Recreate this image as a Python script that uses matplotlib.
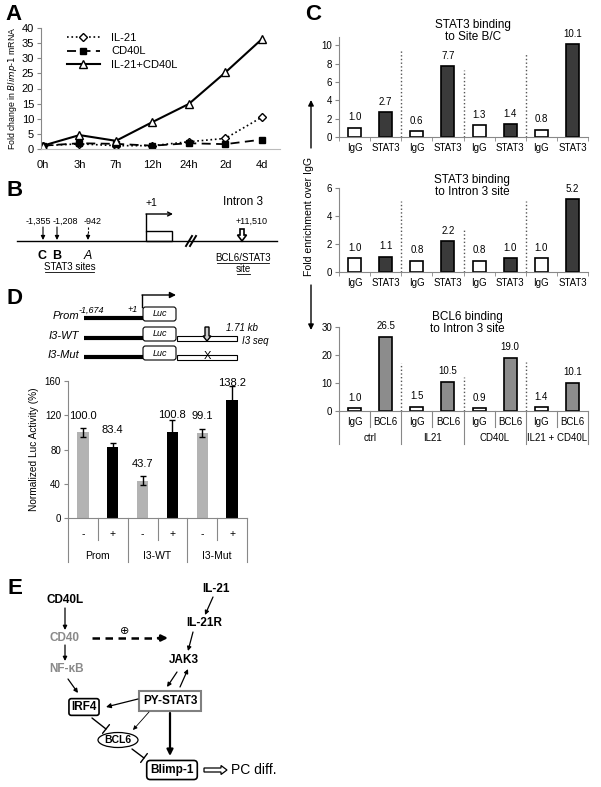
import numpy as np
import matplotlib
matplotlib.use('Agg')
import matplotlib.pyplot as plt
import matplotlib.patches as mpatches

plt.rcParams['font.family'] = ['Liberation Sans', 'DejaVu Sans']
plt.rcParams['axes.linewidth'] = 0.8

W, H = 601, 787

# --- panel A: Blimp-1 mRNA time course
time_points = ['0h', '3h', '7h', '12h', '24h', '2d', '4d']
il21_fold = [1.1, 1.7, 1.1, 1.1, 2.4, 3.5, 10.5]
cd40l_fold = [1.1, 1.9, 1.7, 1.1, 1.9, 1.6, 3.1]
combo_fold = [1.1, 4.6, 2.7, 8.9, 14.9, 25.3, 36.3]

# --- panel C: ChIP
chip_groups = ['ctrl', 'IL21', 'CD40L', 'IL21 + CD40L']
site_bc_igg = [1.0, 0.6, 1.3, 0.8]
site_bc_stat3 = [2.7, 7.7, 1.4, 10.1]
intron3_igg = [1.0, 0.8, 0.8, 1.0]
intron3_stat3 = [1.1, 2.2, 1.0, 5.2]
bcl6_igg = [1.0, 1.5, 0.9, 1.4]
bcl6_bcl6 = [26.5, 10.5, 19.0, 10.1]

# --- panel D: luciferase
constructs = ['Prom', 'I3-WT', 'I3-Mut']
luc_minus = [100.0, 43.7, 99.1]
luc_plus = [83.4, 100.8, 138.2]
err_minus = [5.5, 5.0, 5.0]
err_plus = [4.0, 14.0, 15.5]

fig = plt.figure(figsize=(W / 100, H / 100), dpi=100)


def px_axes(x0, y0, x1, y1):
    return fig.add_axes([x0 / W, 1 - y1 / H, (x1 - x0) / W, (y1 - y0) / H])


# ================= A =================
axA = px_axes(41, 28, 280, 149)
x = np.arange(len(time_points))
axA.plot(x, il21_fold, ls=':', color='k', lw=1.2, marker='D', ms=4, mfc='white', mec='k', label='IL-21')
axA.plot(x, cd40l_fold, ls=(0, (5, 3)), color='k', lw=1.3, marker='s', ms=4, mfc='k', mec='k', label='CD40L')
axA.plot(x, combo_fold, ls='-', color='k', lw=1.5, marker='^', ms=5.5, mfc='white', mec='k', label='IL-21+CD40L')
axA.set_xlim(-0.055, 6.5)
axA.set_ylim(0, 40)
axA.set_yticks(range(0, 41, 5))
axA.set_xticks(x, time_points)
axA.tick_params(axis='x', length=0, pad=8, labelsize=8)
axA.tick_params(axis='y', length=3, pad=2, labelsize=8, color='#888')
for s in ['top', 'right']:
    axA.spines[s].set_visible(False)
axA.spines['left'].set_color('#888')
axA.spines['bottom'].set_color('#bbb')
axA.set_ylabel(r'Fold change in $\it{Blimp}$-$\it{1}$ mRNA', fontsize=6.3, labelpad=2)
axA.legend(loc='upper left', bbox_to_anchor=(0.065, 1.04), frameon=False, fontsize=8,
           handlelength=3.0, labelspacing=0.3, handletextpad=1.0)


# ================= C =================
def chip_axes(y_top, y_zero, ymax, ytick_list, igg, ab, ab_color, ab_name, sep_tops, lower=False):
    ax = px_axes(339, y_top, 588, y_zero)
    vals = []
    cols = []
    names = []
    for i in range(len(igg)):
        vals += [igg[i], ab[i]]
        cols += ['white', ab_color]
        names += ['IgG', ab_name]
    pos = np.arange(len(vals))
    ax.bar(pos, vals, width=0.42, color=cols, edgecolor='k', lw=1.2)
    for p, v in zip(pos, vals):
        ax.annotate(f'{v:.1f}', (p, v), xytext=(0, 7.5), textcoords='offset points',
                    ha='center', va='center', fontsize=7)
    ax.set_xlim(-0.5, len(vals) - 0.5)
    ax.set_ylim(0, ymax)
    ax.set_yticks(ytick_list)
    ax.set_xticks(pos, names)
    ax.tick_params(axis='y', length=3, pad=2, labelsize=7, color='#888')
    ax.tick_params(axis='x', length=0, pad=4, labelsize=7)
    ax.set_xticks(np.arange(len(vals) + 1) - 0.5, minor=True)
    ax.tick_params(axis='x', which='minor', length=0 if lower else 3, color='#888')
    for s in ['top', 'right']:
        ax.spines[s].set_visible(False)
    ax.spines['left'].set_color('#888')
    ax.spines['bottom'].set_color('#888')
    for b, t in zip([1.5, 3.5, 5.5], sep_tops):
        ax.plot([b, b], [0, t], ls=':', color='#555', lw=1.0)
    if lower:
        h = y_zero - y_top
        tr = ax.get_xaxis_transform()
        for k in range(len(vals) + 1):
            depth = 33 if k % 2 == 0 else 16
            ax.plot([k - 0.5, k - 0.5], [0, -depth / h], color='#888', lw=0.8,
                    transform=tr, clip_on=False)
        for g, name in enumerate(chip_groups):
            ax.text(2 * g + 0.5, -27 / h, name, transform=tr, ha='center', va='center', fontsize=7)
    return ax


chip_axes(37, 137, 10.9, range(0, 11, 2), site_bc_igg, site_bc_stat3, '#3a3a3a', 'STAT3', [9.5, 7.3, 9.2])
chip_axes(188, 272, 6, range(0, 7, 2), intron3_igg, intron3_stat3, '#3a3a3a', 'STAT3', [5.1, 3.0, 5.1])
chip_axes(327, 411, 30, range(0, 31, 10), bcl6_igg, bcl6_bcl6, '#8c8c8c', 'BCL6', [17, 12, 17.5], lower=True)

# ================= D (bars) =================
axD = px_axes(68, 381, 247, 518)
d_vals, d_err, d_cols, d_names = [], [], [], []
for i in range(len(constructs)):
    d_vals += [luc_minus[i], luc_plus[i]]
    d_err += [err_minus[i], err_plus[i]]
    d_cols += ['#b3b3b3', 'black']
    d_names += ['-', '+']
dpos = np.arange(len(d_vals))
axD.bar(dpos, d_vals, width=0.38, color=d_cols, yerr=d_err,
        error_kw=dict(ecolor='k', elinewidth=1, capsize=2.5, capthick=1))
for p, v in zip(dpos, d_vals):
    axD.annotate(f'{v:.1f}', (p, v), xytext=(0, 12), textcoords='offset points',
                 ha='center', va='center', fontsize=8)
axD.set_xlim(-0.5, len(d_vals) - 0.5)
axD.set_ylim(0, 160)
axD.set_yticks(range(0, 161, 40))
axD.set_xticks(dpos, d_names)
axD.tick_params(axis='y', length=3, pad=2, labelsize=7, color='#888')
axD.tick_params(axis='x', length=0, pad=8, labelsize=7.5)
for s in ['top', 'right']:
    axD.spines[s].set_visible(False)
axD.spines['left'].set_color('#888')
axD.spines['bottom'].set_color('#888')
axD.set_ylabel('Normalized Luc Activity (%)', fontsize=7.3, labelpad=4)
hD = 518 - 381
trD = axD.get_xaxis_transform()
for k in range(len(d_vals) + 1):
    depth = 44 if k % 2 == 0 else 22
    axD.plot([k - 0.5, k - 0.5], [0, -depth / hD], color='#888', lw=0.8, transform=trD, clip_on=False)
for g, name in enumerate(constructs):
    axD.text(2 * g + 0.5, -38 / hD, name, transform=trD, ha='center', va='center', fontsize=7.5)

# ================= overlay: diagrams and labels =================
ov = fig.add_axes([0, 0, 1, 1])
ov.set_xlim(0, W)
ov.set_ylim(H, 0)
ov.axis('off')


def arrow(p0, p1, lw=1.0, ms=7, color='k', style='-|>'):
    ov.annotate('', xy=p1, xytext=p0,
                arrowprops=dict(arrowstyle=style, lw=lw, color=color, mutation_scale=ms,
                                shrinkA=0, shrinkB=0))


def tbar(p0, p1, lw=1.0):
    ov.annotate('', xy=p1, xytext=p0,
                arrowprops=dict(arrowstyle='-[, widthB=0.5, lengthB=0', lw=lw, color='k',
                                mutation_scale=8, shrinkA=0, shrinkB=0))


for lab, (lx, ly) in {'A': (14, 14), 'B': (15, 190), 'C': (313, 14), 'D': (15, 298), 'E': (15, 588)}.items():
    ov.text(lx, ly, lab, fontsize=16, fontweight='bold', ha='center', va='center')

# C titles and shared y label
ov.text(473, 31, 'STAT3 binding\nto Site B/C', fontsize=8.5, ha='center', va='center', linespacing=1.05)
ov.text(472, 186, 'STAT3 binding\nto Intron 3 site', fontsize=8.5, ha='center', va='center', linespacing=1.05)
ov.text(467, 323, 'BCL6 binding\nto Intron 3 site', fontsize=8.5, ha='center', va='center', linespacing=1.05)
ov.text(309, 216, 'Fold enrichment over IgG', fontsize=7.6, rotation=90, ha='center', va='center')
arrow((311, 148), (311, 100), lw=1.0, ms=8)
arrow((311, 285), (311, 330), lw=1.0, ms=8)

# ----- B: gene diagram
ov.plot([17, 277], [241, 241], color='k', lw=1.0)
for xs in [43, 57]:
    arrow((xs, 227), (xs, 240), lw=0.8, ms=6)
ov.plot([88, 88], [227, 235], color='k', lw=0.8, ls=(0, (2, 1.5)))
arrow((88, 234), (88, 240), lw=0.8, ms=6)
for tx, t in [(38, '-1,355'), (65, '-1,208'), (93, '-942')]:
    ov.text(tx, 221, t, fontsize=6.5, ha='center', va='center')
ov.text(42, 256, 'C', fontsize=9, fontweight='bold', ha='center', va='center')
ov.text(57, 256, 'B', fontsize=9, fontweight='bold', ha='center', va='center')
ov.text(88, 256, 'A', fontsize=9, style='italic', ha='center', va='center')
ov.text(70, 267, 'STAT3 sites', fontsize=7, ha='center', va='center')
ov.plot([45, 94], [272, 272], color='k', lw=0.6)
ov.add_patch(mpatches.Rectangle((146, 231), 26, 10, fill=False, ec='k', lw=1.0))
ov.plot([146, 146], [231, 214], color='k', lw=1.0)
arrow((146, 214), (173, 214), lw=1.0, ms=7, style='->')
ov.text(151, 203, '+1', fontsize=7.5, ha='center', va='center')
ov.plot([186, 192], [246, 236], color='k', lw=1.4)
ov.plot([190, 196], [246, 236], color='k', lw=1.4)
ov.add_patch(mpatches.FancyArrow(242, 229, 0, 12, width=4, head_width=9, head_length=6,
                                 length_includes_head=True, fc='white', ec='k', lw=1.2))
ov.text(252, 221, '+11,510', fontsize=6.5, ha='center', va='center')
ov.text(243, 202, 'Intron 3', fontsize=8.5, ha='center', va='center')
ov.text(243, 258, 'BCL6/STAT3', fontsize=7, ha='center', va='center')
ov.plot([217, 269], [263, 263], color='k', lw=0.6)
ov.text(243, 269, 'site', fontsize=7, ha='center', va='center')
ov.plot([237, 250], [274, 274], color='k', lw=0.6)

# ----- D: constructs
rows = {'Prom': 318, 'I3-WT': 338, 'I3-Mut': 357}
for name, yy in rows.items():
    ov.text(79, yy - 2, name, fontsize=8, style='italic', ha='right', va='center')
    ov.plot([84, 143], [yy, yy], color='k', lw=3, solid_capstyle='butt')
    ov.add_patch(mpatches.FancyBboxPatch((143, yy - 11), 33, 14, boxstyle='round,pad=0,rounding_size=2.5',
                                         fc='white', ec='k', lw=0.8))
    ov.text(159.5, yy - 4, 'Luc', fontsize=6.5, style='italic', ha='center', va='center')
    if name != 'Prom':
        ov.add_patch(mpatches.Rectangle((177, yy - 2), 60, 5, fc='white', ec='k', lw=0.8))
ov.plot([142, 142], [307, 295], color='k', lw=1.0)
arrow((142, 295), (176, 295), lw=1.0, ms=9)
ov.text(91, 310, '-1,674', fontsize=6.5, style='italic', ha='center', va='center')
ov.text(133, 310, '+1', fontsize=6.5, style='italic', ha='center', va='center')
ov.add_patch(mpatches.FancyArrow(207, 327, 0, 14, width=4, head_width=8, head_length=5,
                                 length_includes_head=True, fc='#cfcfcf', ec='k', lw=1.0))
ov.text(207, 356, 'X', fontsize=8, ha='center', va='center')
ov.text(242, 328, '1.71 kb', fontsize=7, style='italic', ha='center', va='center')
ov.text(255, 341, 'I3 seq', fontsize=7, style='italic', ha='center', va='center')

# ----- E: pathway
bold = dict(fontsize=8.5, fontweight='bold', ha='center', va='center')
grey = '#8a8a8a'
ov.text(65, 600, 'CD40L', **bold)
ov.text(216, 589, 'IL-21', **bold)
ov.text(204, 623, 'IL-21R', **bold)
ov.text(184, 660, 'JAK3', **bold)
ov.text(65, 638, 'CD40', color=grey, **bold)
ov.text(67, 669, 'NF-κB', color=grey, **bold)
ov.text(84, 707, 'IRF4', bbox=dict(boxstyle='round,pad=0.2', fc='white', ec='k', lw=1.2), **bold)
ov.text(170, 701, 'PY-STAT3', bbox=dict(boxstyle='square,pad=0.3', fc='white', ec='#808080', lw=1.5), **bold)
ov.text(172, 770, 'Blimp-1', bbox=dict(boxstyle='round,pad=0.3', fc='white', ec='k', lw=1.2), **bold)
ov.add_patch(mpatches.Ellipse((118, 740), 40, 15, fc='white', ec='k', lw=0.9))
ov.text(118, 740, 'BCL6', fontsize=7.5, fontweight='bold', ha='center', va='center')

arrow((65, 608), (65, 630), lw=0.9, ms=6)
arrow((65, 645), (65, 661), lw=0.9, ms=6)
ov.plot([92, 160], [638, 638], color='k', lw=1.8, ls=(0, (3, 2.2)))
arrow((158, 638), (168, 638), lw=1.8, ms=9)
ov.text(125, 631, '⊕', fontsize=8, ha='center', va='center')
arrow((213, 597), (205, 615), lw=0.9, ms=6)
arrow((193, 632), (188, 651), lw=0.9, ms=6)
arrow((177, 672), (167, 687), lw=0.9, ms=6)
arrow((180, 687), (188, 669), lw=0.9, ms=6)
arrow((68, 679), (78, 693), lw=0.9, ms=6)
arrow((138, 699), (106, 707), lw=0.9, ms=7)
arrow((149, 712), (133, 730), lw=0.6, ms=6)
arrow((170, 713), (170, 756), lw=1.6, ms=9)
tbar((92, 718), (106, 729))
tbar((132, 749), (144, 758))
ov.add_patch(mpatches.FancyArrow(204, 770, 23, 0, width=4, head_width=9, head_length=6,
                                 length_includes_head=True, fc='white', ec='k', lw=0.9))
ov.text(231, 770, 'PC diff.', fontsize=10, ha='left', va='center')

fig.savefig('out.png', dpi=100)
